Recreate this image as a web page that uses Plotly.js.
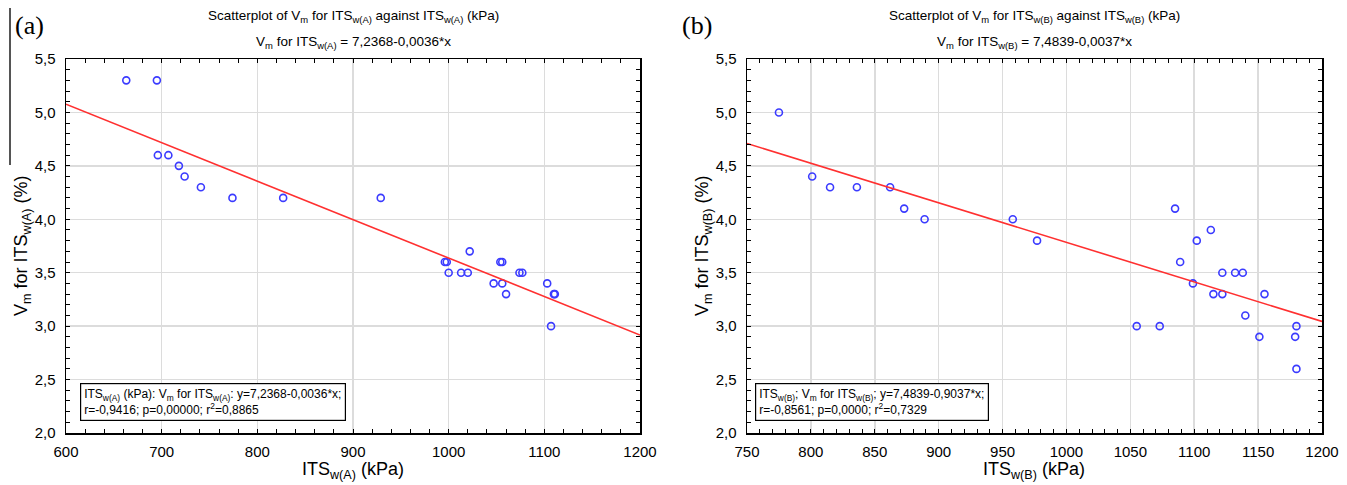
<!DOCTYPE html>
<html>
<head>
<meta charset="utf-8">
<script src="https://cdn.plot.ly/plotly-3.0.1.min.js"></script>
<style>html,body{margin:0;padding:0;background:#fff;}#chart{width:1347px;height:485px;}</style>
</head>
<body>
<div id="chart"></div>
<script>
// Panel (a) data
const itsA = [663,695,696,707,718,724,741,774,827,929,996,998,1022,1000,1013,1020,1054,1056,1047,1056,1060,1074,1077,1103,1110,1111,1107];
const vmA  = [5.3,5.3,4.6,4.6,4.5,4.4,4.3,4.2,4.2,4.2,3.6,3.6,3.7,3.5,3.5,3.5,3.6,3.6,3.4,3.4,3.3,3.5,3.5,3.4,3.3,3.3,3.0];
const fitA_x = [600, 1200];
const fitA_y = [5.077, 2.917];
// Panel (b) data
const itsB = [775,801,815,836,862,873,889,958,977,1055,1073,1085,1089,1099,1102,1113,1115,1122,1122,1132,1138,1140,1155,1151,1180,1179,1180];
const vmB  = [5.0,4.4,4.3,4.3,4.3,4.1,4.0,4.0,3.8,3.0,3.0,4.1,3.6,3.4,3.8,3.9,3.3,3.3,3.5,3.5,3.5,3.1,3.3,2.9,3.0,2.9,2.6];
const fitB_x = [750, 1200];
const fitB_y = [4.709, 3.044];

const W = 1347, H = 485;
const px = v => v / W;
const py = v => 1 - v / H;

const FONT = "Liberation Sans, Arial, sans-serif";
const markerStyle = {symbol: 'circle-open', size: 7, color: '#3b3bff', line: {width: 1.6, color: '#3b3bff'}};
const lineStyle = {color: '#ff3030', width: 1.6};

const traces = [
  {x: itsA, y: vmA, type: 'scatter', mode: 'markers', marker: markerStyle, xaxis: 'x', yaxis: 'y', hoverinfo: 'skip'},
  {x: fitA_x, y: fitA_y, type: 'scatter', mode: 'lines', line: lineStyle, xaxis: 'x', yaxis: 'y', hoverinfo: 'skip'},
  {x: itsB, y: vmB, type: 'scatter', mode: 'markers', marker: markerStyle, xaxis: 'x2', yaxis: 'y2', hoverinfo: 'skip'},
  {x: fitB_x, y: fitB_y, type: 'scatter', mode: 'lines', line: lineStyle, xaxis: 'x2', yaxis: 'y2', hoverinfo: 'skip'}
];

function xax(domain, range, dtick, minor) {
  return {
    domain: domain, range: range, dtick: dtick, tick0: range[0], tickformat: 'd',
    showline: true, linecolor: '#000', linewidth: 1.5, mirror: 'ticks',
    ticks: 'inside', ticklen: 4, tickcolor: '#000', tickwidth: 1,
    minor: {dtick: minor, ticks: 'inside', ticklen: 4, tickcolor: '#000', tickwidth: 1, showgrid: false},
    showgrid: true, gridcolor: '#dcdcdc', gridwidth: 1.5, zeroline: false,
    tickfont: {family: FONT, size: 15, color: '#000'}, ticklabelstandoff: 4, fixedrange: true
  };
}
function yax(domain, anchor) {
  return {
    domain: domain, range: [2, 5.5], dtick: 0.5, tick0: 2, tickformat: '.1f', anchor: anchor,
    showline: true, linecolor: '#000', linewidth: 1.5, mirror: 'ticks',
    ticks: 'inside', ticklen: 4, tickcolor: '#000', tickwidth: 1,
    minor: {dtick: 0.1, ticks: 'inside', ticklen: 4, tickcolor: '#000', tickwidth: 1, showgrid: false},
    showgrid: true, gridcolor: '#dcdcdc', gridwidth: 1.5, zeroline: false,
    tickfont: {family: FONT, size: 15, color: '#000'}, ticklabelstandoff: 6, fixedrange: true
  };
}

const yDom = [py(433), py(59)];
const ax1 = xax([px(66), px(640)], [600, 1200], 100, 20); ax1.anchor = 'y';
const ax2 = xax([px(747), px(1322)], [750, 1200], 50, 10); ax2.anchor = 'y2';

const ann = [];
function txt(x, y, text, size, extra) {
  ann.push(Object.assign({xref: 'paper', yref: 'paper', x: px(x), y: py(y), text: text, showarrow: false,
    xanchor: 'center', yanchor: 'middle', font: {family: FONT, size: size, color: '#000'}}, extra || {}));
}
// panel labels
txt(29, 25, '(a)', 26, {font: {family: 'Liberation Serif, Times New Roman, serif', size: 26, color: '#000'}});
txt(697, 25, '(b)', 26, {font: {family: 'Liberation Serif, Times New Roman, serif', size: 26, color: '#000'}});
// titles
txt(353, 17, 'Scatterplot of V<sub>m</sub> for ITS<sub>w(A)</sub> against ITS<sub>w(A)</sub> (kPa)', 13.5);
txt(353, 42, 'V<sub>m</sub> for ITS<sub>w(A)</sub> = 7,2368-0,0036*x', 13.5);
txt(1034, 17, 'Scatterplot of V<sub>m</sub> for ITS<sub>w(B)</sub> against ITS<sub>w(B)</sub> (kPa)', 13.5);
txt(1034, 42, 'V<sub>m</sub> for ITS<sub>w(B)</sub> = 7,4839-0,0037*x', 13.5);
// axis titles
txt(353, 470, 'ITS<sub>w(A)</sub> (kPa)', 18);
txt(1034, 470, 'ITS<sub>w(B)</sub> (kPa)', 18);
txt(22, 246, 'V<sub>m</sub> for ITS<sub>w(A)</sub> (%)', 18, {textangle: -90});
txt(703, 246, 'V<sub>m</sub> for ITS<sub>w(B)</sub> (%)', 18, {textangle: -90});
// stats boxes
txt(80, 421, 'ITS<sub>w(A)</sub> (kPa): V<sub>m</sub> for ITS<sub>w(A)</sub>: y=7,2368-0,0036*x;<br>r=-0,9416; p=0,00000; r<sup>2</sup>=0,8865', 12,
  {xanchor: 'left', yanchor: 'bottom', align: 'left', bordercolor: '#000', borderwidth: 1.2, borderpad: 3, bgcolor: '#fff'});
txt(755, 421, 'ITS<sub>w(B)</sub>; V<sub>m</sub> for ITS<sub>w(B)</sub>; y=7,4839-0,9037*x;<br>r=-0,8561; p=0,0000; r<sup>2</sup>=0,7329', 12,
  {xanchor: 'left', yanchor: 'bottom', align: 'left', bordercolor: '#000', borderwidth: 1.2, borderpad: 3, bgcolor: '#fff'});

const layout = {
  width: W, height: H,
  margin: {l: 0, r: 0, t: 0, b: 0},
  paper_bgcolor: '#fff', plot_bgcolor: '#fff',
  showlegend: false,
  separators: ', ',
  font: {family: FONT, color: '#000'},
  xaxis: ax1, yaxis: yax(yDom, 'x'),
  xaxis2: ax2, yaxis2: yax(yDom, 'x2'),
  annotations: ann,
  shapes: [
    {type: 'line', xref: 'paper', yref: 'paper', x0: px(10), x1: px(10), y0: py(8), y1: py(165), line: {color: '#555', width: 2}}
  ]
};

Plotly.newPlot('chart', traces, layout, {staticPlot: true, displayModeBar: false});
</script>
</body>
</html>
